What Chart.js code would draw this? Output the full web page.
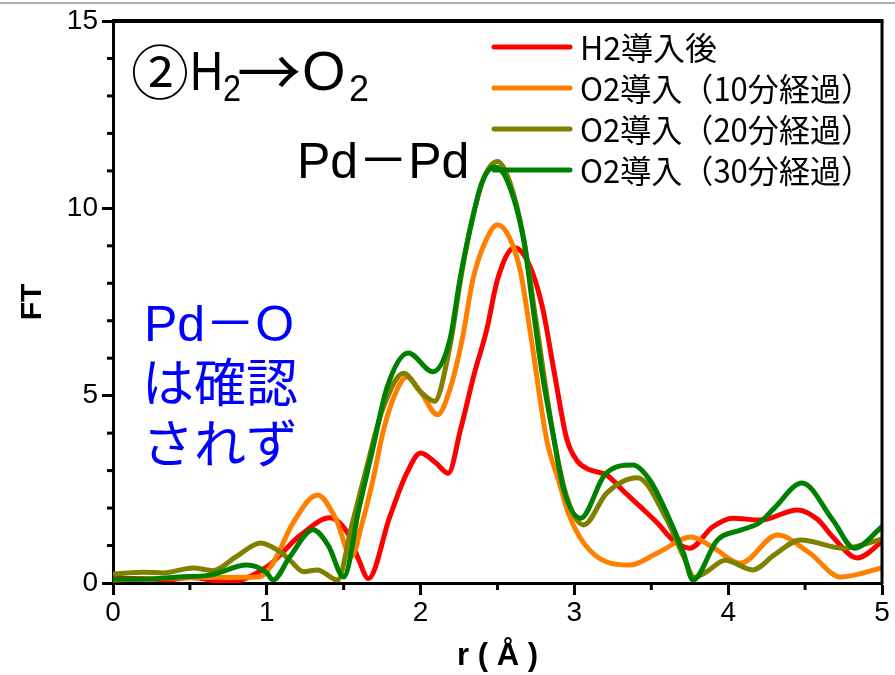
<!DOCTYPE html>
<html>
<head>
<meta charset="utf-8">
<script src="https://cdn.jsdelivr.net/npm/chart.js@4.4.1/dist/chart.umd.min.js"></script>
<style>
    html, body { margin: 0; padding: 0; background: #fff; }
    #wrap { position: relative; width: 895px; height: 675px; }
    #topline { position: absolute; left: 0; top: 2px; width: 895px; height: 2px; background: #b0b0b0; }
</style>
</head>
<body>
<div id="wrap">
    <canvas id="ftChart" width="895" height="675"></canvas>
    <div id="topline"></div>
</div>
<script>
// r (Å) / FT values
const seriesLabels = ['H2導入後', 'O2導入（10分経過）', 'O2導入（20分経過）', 'O2導入（30分経過）'];
const seriesColors = ['#ff0000', '#ff8000', '#808000', '#008000'];

const h2R  = [0, 0.2, 0.35, 0.5, 0.75, 1.0, 1.22, 1.41, 1.53, 1.6, 1.66, 1.8, 1.91, 2.0, 2.1, 2.18, 2.26, 2.35, 2.43, 2.5, 2.61, 2.7, 2.79, 2.87, 2.95, 3.02, 3.1, 3.21, 3.32, 3.43, 3.54, 3.64, 3.75, 3.9, 4.03, 4.21, 4.45, 4.58, 4.68, 4.84, 5.0];
const h2FT = [0.12, 0.12, 0.08, 0.15, 0.02, 0.43, 1.28, 1.74, 1.3, 0.6, 0.12, 1.77, 2.93, 3.47, 3.2, 2.93, 4.1, 5.6, 6.76, 8.1, 8.95, 8.55, 7.4, 5.6, 3.85, 3.25, 3.02, 2.88, 2.45, 2.03, 1.6, 1.15, 0.93, 1.5, 1.73, 1.68, 1.95, 1.7, 1.23, 0.67, 1.1];

const o10R  = [0, 0.3, 0.6, 0.95, 1.04, 1.17, 1.33, 1.45, 1.55, 1.62, 1.69, 1.76, 1.84, 1.91, 2.0, 2.11, 2.19, 2.27, 2.34, 2.42, 2.5, 2.58, 2.65, 2.72, 2.82, 2.9, 2.96, 3.06, 3.21, 3.36, 3.54, 3.76, 3.9, 4.08, 4.32, 4.53, 4.73, 5.0];
const o10FT = [0.08, 0.12, 0.15, 0.16, 0.53, 1.6, 2.35, 1.7, 0.7, 1.6, 2.75, 4.1, 5.1, 5.5, 5.1, 4.49, 5.16, 6.49, 8.1, 9.1, 9.56, 9.2, 8.3, 6.5, 3.82, 2.7, 1.87, 1.07, 0.56, 0.48, 0.8, 1.23, 0.95, 0.53, 1.28, 0.8, 0.16, 0.4];

const o20R  = [0, 0.2, 0.33, 0.52, 0.65, 0.8, 0.96, 1.08, 1.15, 1.24, 1.33, 1.46, 1.55, 1.65, 1.75, 1.89, 2.0, 2.09, 2.19, 2.26, 2.33, 2.41, 2.5, 2.58, 2.67, 2.75, 2.86, 2.95, 3.06, 3.21, 3.41, 3.6, 3.71, 3.78, 3.86, 3.98, 4.16, 4.3, 4.47, 4.75, 5.0];
const o20FT = [0.24, 0.29, 0.27, 0.4, 0.33, 0.7, 1.07, 0.85, 0.61, 0.3, 0.35, 0.08, 1.5, 3.1, 4.6, 5.6, 5.1, 4.85, 6.3, 8.1, 9.6, 10.8, 11.25, 10.7, 9.2, 7.0, 4.0, 2.3, 1.55, 2.4, 2.81, 1.7, 0.7, 0.15, 0.3, 0.61, 0.35, 0.75, 1.15, 0.93, 1.17];

const o30R  = [0, 0.2, 0.42, 0.63, 0.87, 1.0, 1.04, 1.15, 1.3, 1.4, 1.5, 1.6, 1.69, 1.78, 1.92, 2.08, 2.19, 2.26, 2.33, 2.4, 2.48, 2.56, 2.67, 2.73, 2.79, 2.86, 2.93, 3.04, 3.2, 3.38, 3.49, 3.6, 3.71, 3.77, 3.93, 4.08, 4.2, 4.3, 4.48, 4.68, 4.82, 5.0];
const o30FT = [0.1, 0.1, 0.16, 0.21, 0.48, 0.27, 0.08, 0.7, 1.42, 1.0, 0.16, 2.0, 3.6, 5.2, 6.14, 5.64, 6.49, 8.2, 9.6, 10.7, 11.1, 10.77, 9.16, 7.37, 5.6, 4.0, 2.5, 1.73, 2.9, 3.15, 2.75, 1.87, 0.8, 0.08, 1.15, 1.41, 1.6, 2.0, 2.67, 1.68, 0.93, 1.5];

const xTickLabels = ['0', '1', '2', '3', '4', '5'];
const yTickLabels = ['0', '5', '10', '15'];

const FONT = "'Liberation Sans', 'Noto Sans CJK JP', sans-serif";
const JP_FONT = "'Noto Sans CJK JP', sans-serif";

function toPoints(rs, fts) {
    return rs.map((r, i) => ({x: r, y: fts[i]}));
}

const allR = [h2R, o10R, o20R, o30R];
const allFT = [h2FT, o10FT, o20FT, o30FT];

// later series on top, like the original plot
const datasets = seriesLabels.map((label, i) => ({
    label: label,
    data: toPoints(allR[i], allFT[i]),
    borderColor: seriesColors[i],
    backgroundColor: seriesColors[i],
    borderWidth: 5,
    borderCapStyle: 'round',
    borderJoinStyle: 'round',
    pointRadius: 0,
    cubicInterpolationMode: 'monotone',
    order: seriesLabels.length - i
}));

function line(ctx, x1, y1, x2, y2) {
    ctx.beginPath();
    ctx.moveTo(x1, y1);
    ctx.lineTo(x2, y2);
    ctx.stroke();
}

const framePlugin = {
    id: 'frame',
    afterDraw(chart) {
        const {ctx, chartArea: a, scales: {x, y}} = chart;
        ctx.save();
        ctx.strokeStyle = '#000';
        ctx.lineWidth = 3;
        // minor ticks
        for (let v = 0.5; v < 5; v += 1) {
            const px = x.getPixelForValue(v);
            line(ctx, px, a.bottom, px, a.bottom + 7);
        }
        for (let v = 1; v < 15; v++) {
            if (v % 5 === 0) continue;
            const py = y.getPixelForValue(v);
            line(ctx, a.left - 6, py, a.left, py);
        }
        // top and right border
        ctx.lineWidth = 4;
        line(ctx, a.left - 1, a.top, a.right + 1.5, a.top);
        ctx.lineWidth = 3;
        line(ctx, a.right, a.top, a.right, a.bottom + 1);
        ctx.restore();
    }
};

const textPlugin = {
    id: 'labels',
    afterDraw(chart) {
        const {ctx, chartArea: a} = chart;
        ctx.save();
        ctx.textBaseline = 'middle';
        ctx.textAlign = 'left';

        // legend
        chart.data.datasets.forEach((ds, i) => {
            const yy = a.top + 26 + i * 41;
            ctx.strokeStyle = ds.borderColor;
            ctx.lineWidth = 5;
            ctx.lineCap = 'round';
            line(ctx, a.left + 381, yy, a.left + 457, yy);
            ctx.fillStyle = '#000';
            ctx.font = '32px ' + JP_FONT;
            ctx.fillText(ds.label, a.left + 467, yy + 1, 292);
        });

        // title  ②H2→O2
        const cy = a.top + 51;
        ctx.fillStyle = '#000';
        ctx.font = '58px ' + JP_FONT;
        ctx.fillText('②', a.left + 18, cy);
        ctx.font = '56px ' + FONT;
        ctx.fillText('H', a.left + 77, cy + 3, 33);
        ctx.font = '36px ' + FONT;
        ctx.fillText('2', a.left + 110, cy + 19, 18);
        ctx.font = '64px ' + JP_FONT;
        ctx.fillText('→', a.left + 124, cy, 64);
        ctx.font = '56px ' + FONT;
        ctx.fillText('O', a.left + 189, cy + 3);
        ctx.font = '36px ' + FONT;
        ctx.fillText('2', a.left + 236, cy + 19, 20);

        // peak labels
        ctx.font = '50px ' + FONT;
        ctx.fillText('Pd－Pd', a.left + 184, a.top + 143, 174);

        ctx.fillStyle = '#0000ff';
        ctx.fillText('Pd－O', a.left + 31, a.top + 306, 153);
        ctx.font = '52px ' + FONT;
        ctx.fillText('は確認', a.left + 29, a.top + 367);
        ctx.fillText('されず', a.left + 29, a.top + 428);
        ctx.restore();
    }
};

new Chart(document.getElementById('ftChart'), {
    type: 'line',
    data: {datasets: datasets},
    options: {
        responsive: false,
        animation: false,
        layout: {padding: {top: 21, right: 13, left: 0, bottom: 0}},
        plugins: {
            legend: {display: false},
            tooltip: {enabled: false}
        },
        scales: {
            x: {
                type: 'linear',
                min: 0,
                max: 5,
                afterFit: (scale) => { scale.height = 92; },
                afterBuildTicks: (scale) => { scale.ticks = xTickLabels.map(t => ({value: Number(t)})); },
                ticks: {
                    color: '#000',
                    font: {family: FONT, size: 28},
                    padding: 1,
                    maxRotation: 0,
                    callback: (v) => String(v)
                },
                grid: {drawOnChartArea: false, tickLength: 12, tickWidth: 3, tickColor: '#000'},
                border: {color: '#000', width: 3},
                title: {
                    display: true,
                    text: 'r ( Å )',
                    color: '#000',
                    font: {family: FONT, size: 31, weight: 'bold'},
                    padding: {top: 0, bottom: 0}
                }
            },
            y: {
                min: 0,
                max: 15,
                afterFit: (scale) => { scale.width = 113; },
                afterBuildTicks: (scale) => { scale.ticks = yTickLabels.map(t => ({value: Number(t)})); },
                ticks: {
                    color: '#000',
                    font: {family: FONT, size: 28},
                    padding: 4,
                    callback: (v) => String(v)
                },
                grid: {drawOnChartArea: false, tickLength: 11, tickWidth: 3, tickColor: '#000'},
                border: {color: '#000', width: 3},
                title: {
                    display: true,
                    text: 'FT',
                    color: '#000',
                    font: {family: FONT, size: 30, weight: 'bold'},
                    padding: {top: 15, bottom: 0}
                }
            }
        }
    },
    plugins: [framePlugin, textPlugin]
});
</script>
</body>
</html>
